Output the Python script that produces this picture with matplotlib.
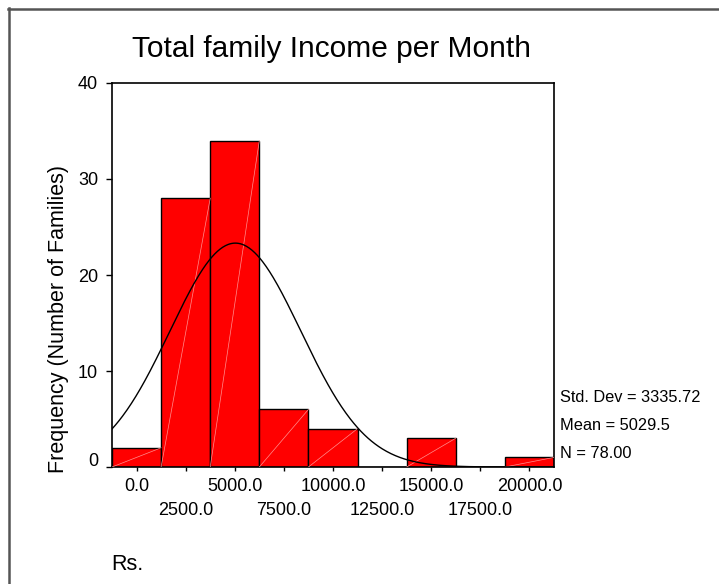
import numpy as np
import matplotlib
matplotlib.use("Agg")
import matplotlib.pyplot as plt
from matplotlib.lines import Line2D
import matplotlib.transforms as mtransforms

plt.rcParams['font.family'] = ['Liberation Sans', 'DejaVu Sans']

# Data
bin_centers = [0, 2500, 5000, 7500, 10000, 12500, 15000, 17500, 20000]
counts = [2, 28, 34, 6, 4, 0, 3, 0, 1]
bin_width = 2500
std_dev = 3335.72
mean = 5029.5
n_total = 78
x_ticks_row1 = [0, 5000, 10000, 15000, 20000]
x_ticks_row2 = [2500, 7500, 12500, 17500]
y_ticks = [0, 10, 20, 30, 40]
title = "Total family Income per Month"
ylabel = "Frequency (Number of Families)"
xlabel = "Rs."

W, H = 719, 584
fig = plt.figure(figsize=(W / 100, H / 100), dpi=100)

def fx(px):
    return px / W

def fy(py):
    return 1 - py / H

# axes box: left 112, right 554, top 83, bottom 467
ax = fig.add_axes([fx(112), fy(467), fx(554) - fx(112), fy(83) - fy(467)])
ax.set_xlim(bin_centers[0] - bin_width / 2, bin_centers[-1] + bin_width / 2)
ax.set_ylim(0, 40)

bars = ax.bar(bin_centers, counts, width=bin_width, color='#ff0000',
              edgecolor='black', linewidth=1.0, zorder=2)
# faint diagonal rendering lines inside bars
for b in bars:
    if b.get_height() > 0:
        x0 = b.get_x()
        x1 = x0 + b.get_width()
        h = b.get_height()
        ax.plot([x0, x1], [0, h], color='#ff9090', lw=0.5, zorder=3)

# normal curve
xs = np.linspace(ax.get_xlim()[0], ax.get_xlim()[1], 500)
ys = n_total * bin_width / (std_dev * np.sqrt(2 * np.pi)) * np.exp(-0.5 * ((xs - mean) / std_dev) ** 2)
ax.plot(xs, ys, color='black', lw=1.0, zorder=4)

for s in ax.spines.values():
    s.set_linewidth(1.2)
    s.set_color('black')

ax.set_yticks(y_ticks)
ax.set_yticklabels([str(v) for v in y_ticks], fontsize=13)
ax.tick_params(axis='y', direction='out', length=4, width=1, pad=6)
# the "0" label sits a little above the baseline in the reference
zero_lab = ax.get_yticklabels()[0]
zero_lab.set_transform(zero_lab.get_transform() +
                       mtransforms.ScaledTranslation(0, 7 / 100, fig.dpi_scale_trans))

ax.set_xticks(x_ticks_row1)
ax.set_xticklabels([f"{v:.1f}" for v in x_ticks_row1], fontsize=13)
ax.set_xticks(x_ticks_row2, minor=True)
ax.set_xticklabels([f"{v:.1f}" for v in x_ticks_row2], minor=True, fontsize=13)
ax.tick_params(axis='x', which='major', direction='out', length=3, width=1, pad=5)
ax.tick_params(axis='x', which='minor', direction='out', length=3, width=1, pad=22)

fig.text(fx(332), fy(49), title, fontsize=21.5, ha='center', va='center')
fig.text(fx(59), fy(319), ylabel, fontsize=15.5, rotation=90, ha='center', va='center')
fig.text(fx(111), fy(565), xlabel, fontsize=15.5, ha='left', va='center')

stats = [f"Std. Dev = {std_dev:.2f}", f"Mean = {mean}", f"N = {n_total:.2f}"]
for i, s in enumerate(stats):
    fig.text(fx(560), fy(398 + 27.5 * i), s, fontsize=11.8, ha='left', va='center')

# outer frame (top and left)
fig.add_artist(Line2D([fx(8), 1], [fy(8.5), fy(8.5)], color='#555555', lw=1.8))
fig.add_artist(Line2D([fx(8.5), fx(8.5)], [fy(8), 0], color='#555555', lw=1.8))

fig.savefig("out.png", dpi=100)
